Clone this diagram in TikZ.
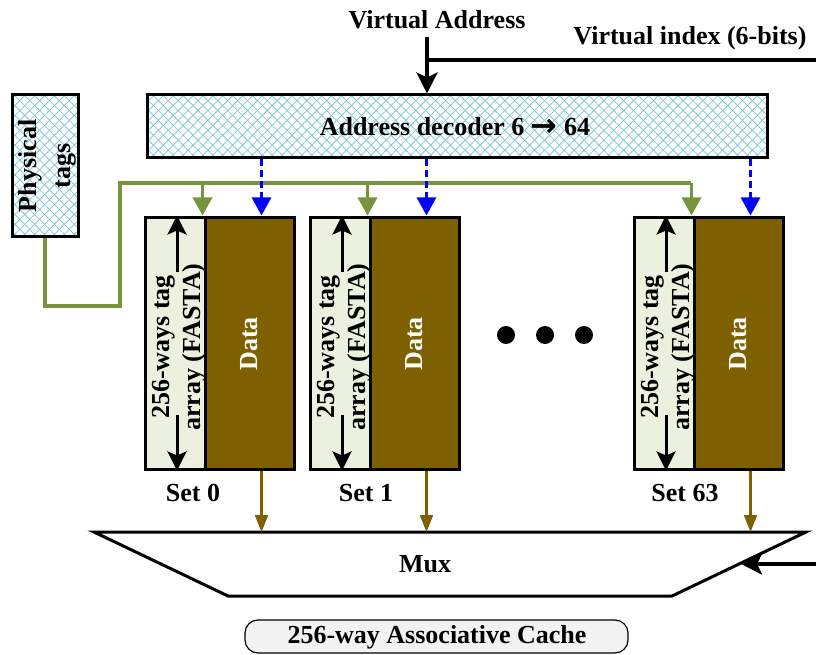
\documentclass[tikz,border=0pt]{standalone}
\usepackage{fontspec}
\setmainfont{Liberation Serif}
\newfontfamily\symfont{DejaVu Sans}
\usetikzlibrary{arrows.meta,patterns.meta}
\definecolor{hatchc}{RGB}{130,200,222}
\definecolor{tagfill}{RGB}{235,241,222}
\definecolor{datafill}{RGB}{127,96,0}
\definecolor{greenc}{RGB}{119,147,60}
\definecolor{labfill}{RGB}{242,242,242}
\tikzset{
  txt/.style={font=\fontsize{26}{31}\selectfont\bfseries, inner sep=0pt, outer sep=0pt},
  hatchbox/.style={draw=black, line width=3pt, inner sep=0pt,
    preaction={fill=white},
    preaction={pattern={Lines[angle=45,distance=7pt,line width=0.8pt]}, pattern color=hatchc},
    preaction={pattern={Lines[angle=-45,distance=7pt,line width=0.8pt]}, pattern color=hatchc}},
  tagbox/.style={draw=black, line width=3pt, fill=tagfill, minimum width=60pt, minimum height=252pt, inner sep=0pt},
  databox/.style={draw=black, line width=3pt, fill=datafill, minimum width=89pt, minimum height=252pt, inner sep=0pt},
  thickline/.style={line width=4pt, draw=black},
  bigarrow/.style={line width=4pt, draw=black, -{Stealth[length=21pt,width=21pt,inset=5pt]}},
  tagarrow/.style={line width=3pt, draw=black, -{Stealth[length=19pt,width=19pt,inset=4pt]}},
  gline/.style={line width=3.5pt, draw=greenc},
  garrow/.style={line width=3.5pt, draw=greenc, -{Triangle[length=18pt,width=19pt]}},
  barrow/.style={line width=2.8pt, draw=blue, dash pattern=on 7pt off 4pt, -{Triangle[length=18pt,width=19pt]}},
  brarrow/.style={line width=2.2pt, draw=datafill, -{Triangle[length=17pt,width=13pt]}},
}
\begin{document}
\begin{tikzpicture}[x=1pt,y=-1pt]
\useasboundingbox (0,0) rectangle (816,655);

% top labels
\node[txt] (va) at (437,20) {Virtual Address};
\node[txt] (vi) at (690,38) {Virtual index (6-bits)};

% decoder
\node[hatchbox, minimum width=620pt, minimum height=63pt] (dec) at (457,126.5) {};
\node[txt] (dectxt) at (455,127) {Address decoder 6 {\symfont\bfseries\fontsize{32}{32}\selectfont\raisebox{-1pt}{→}} 64};

% physical tags
\node[hatchbox, minimum width=66pt, minimum height=141pt] (phys) at (45,165.5) {};
\node[txt, font=\fontsize{26}{34}\selectfont\bfseries, align=center, rotate=90] (phystxt) at (47,166) {Physical\\tags};

% virtual address lines
\coordinate (vatop) at (427,37);
\coordinate (vajoin) at (427,60);
\coordinate (viend) at (816,60);
\draw[thickline] (viend) -- (vajoin);
\draw[bigarrow] (vatop) -- (dec.north -| vatop);

% mux
\coordinate (m1) at (94,532);
\coordinate (m2) at (806,532);
\coordinate (m3) at (672,596);
\coordinate (m4) at (228,596);
\draw[line width=3pt, line join=miter] (m1) -- (m2) -- (m3) -- (m4) -- cycle;
\node[txt] (mux) at (425,564) {Mux};
\coordinate (selin) at (816,564);
\coordinate (selend) at (741,564);
\draw[bigarrow] (selin) -- (selend);

% green tag bus
\coordinate (g1) at (120,306);
\coordinate (g2) at (120,183);
\coordinate (g3) at (691,183);
\draw[gline] (phys.south) |- (g1) -- (g2) -- (g3);

% sets
\foreach \L/\n/\lab/\lx in {145/s0/Set 0/193, 310/s1/Set 1/366, 634/s63/Set 63/685} {
  \node[tagbox] (tag\n) at (\L+30,343) {};
  \node[databox] (data\n) at (\L+104.5,343) {};
  \node[txt, color=white, rotate=90] (dtxt\n) at (\L+104.5,344) {Data};
  \node[txt, align=center, rotate=90] (ttxt\n) at (\L+34,347) {256-ways tag\\array (FASTA)};
  \coordinate (au\n) at (\L+32,272);
  \coordinate (ad\n) at (\L+32,415);
  \draw[tagarrow] (au\n) -- (au\n |- tag\n.north);
  \draw[tagarrow] (ad\n) -- (ad\n |- tag\n.south);
  \node[txt] (lab\n) at (\lx,493) {\lab};
  \coordinate (gx\n) at ([xshift=-4pt]tag\n.north east);
  \draw[garrow] (gx\n |- g2) -- (gx\n);
  \coordinate (bx\n) at ([xshift=55pt]tag\n.north east);
  \draw[barrow] (dec.south -| bx\n) -- (bx\n);
  \coordinate (bb\n) at ([xshift=55pt]tag\n.south east);
  \draw[brarrow] (bb\n) -- (bb\n |- m1);
}

% dots
\fill (506,335) circle (9pt);
\fill (545,335) circle (9pt);
\fill (584,335) circle (9pt);

% caption
\node[draw=black, line width=1.2pt, fill=labfill, rounded corners=13pt, minimum width=383pt, minimum height=33pt, inner sep=0pt] (cap) at (436.5,636.5) {};
\node[txt] (captxt) at (437,637) {256-way Associative Cache};
\end{tikzpicture}
\end{document}
